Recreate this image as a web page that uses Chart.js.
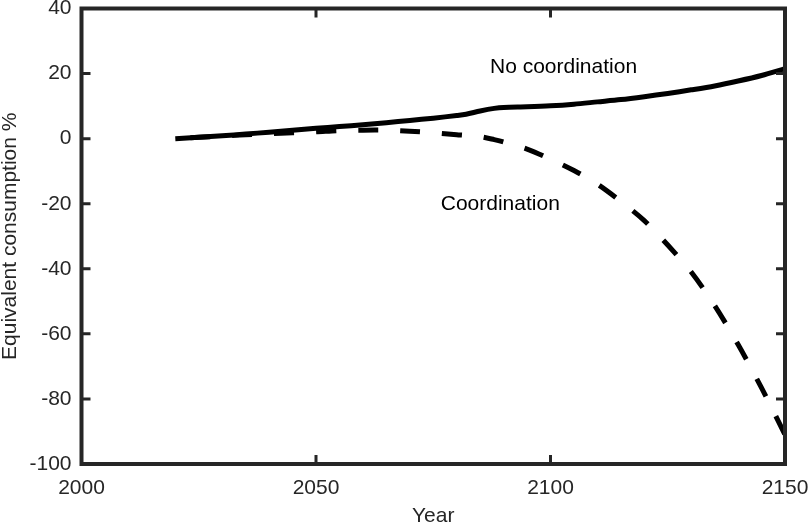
<!DOCTYPE html>
<html>
<head>
<meta charset="utf-8">
<script src="https://cdn.jsdelivr.net/npm/chart.js@4.4.0/dist/chart.umd.min.js"></script>
<style>
  body { margin: 0; background: #fff; }
  #wrap { width: 808px; height: 529px; }
</style>
</head>
<body>
<div id="wrap"><canvas id="c" width="808" height="529"></canvas></div>
<script>
// years and equivalent consumption (%) for both scenarios
const years = [2020, 2025, 2030, 2035, 2040, 2045, 2050, 2055, 2060, 2065, 2070, 2075, 2080, 2082, 2085, 2088, 2090, 2095, 2100, 2105, 2110, 2115, 2120, 2125, 2130, 2135, 2140, 2145, 2150];
const noCoordination = [0, 0.4, 0.9, 1.4, 2.0, 2.6, 3.2, 3.7, 4.3, 4.9, 5.6, 6.3, 7.1, 7.5, 8.5, 9.3, 9.6, 9.8, 10.1, 10.6, 11.3, 12.0, 12.9, 13.9, 15.0, 16.2, 17.7, 19.4, 21.5];
const coordination = [0, 0.4, 0.8, 1.2, 1.5, 1.8, 2.1, 2.5, 2.6, 2.6, 2.3, 1.8, 1.2, 1.0, 0.6, -0.3, -1.0, -3.2, -6.3, -9.8, -14.0, -19.3, -25.2, -32.7, -41.0, -51.3, -63.3, -76.6, -91.0];

const xTicks = [2000, 2050, 2100, 2150];
const yTicks = [-100, -80, -60, -40, -20, 0, 20, 40];

// text labels next to the curves: [text, year, value at baseline]
const curveLabels = [
  ['No coordination', 2087.1, 20.2],
  ['Coordination', 2076.6, -21.9]
];

const FONT = "'Liberation Sans', Arial, Helvetica, sans-serif";
const AXIS = '#262626';
const FS = 21;

const toPoints = (xs, ys) => xs.map((x, i) => ({ x: x, y: ys[i] }));

// box around the plot with short ticks pointing inwards
const framePlugin = {
  id: 'frame',
  afterDraw(chart) {
    const { ctx, chartArea: a, scales: { x, y } } = chart;
    const tl = 9;
    ctx.save();
    ctx.strokeStyle = AXIS;
    ctx.lineWidth = 3;
    ctx.beginPath();
    xTicks.forEach(v => {
      const px = x.getPixelForValue(v);
      ctx.moveTo(px, a.bottom); ctx.lineTo(px, a.bottom - tl);
      ctx.moveTo(px, a.top); ctx.lineTo(px, a.top + tl);
    });
    yTicks.forEach(v => {
      const py = y.getPixelForValue(v);
      ctx.moveTo(a.left, py); ctx.lineTo(a.left + tl, py);
      ctx.moveTo(a.right, py); ctx.lineTo(a.right - tl, py);
    });
    ctx.stroke();
    ctx.lineWidth = 4;
    ctx.strokeRect(a.left, a.top, a.right - a.left, a.bottom - a.top);

    ctx.fillStyle = '#000';
    ctx.font = FS + 'px ' + FONT;
    ctx.textAlign = 'left';
    ctx.textBaseline = 'alphabetic';
    curveLabels.forEach(([t, xv, yv]) => {
      ctx.fillText(t, x.getPixelForValue(xv), y.getPixelForValue(yv));
    });
    ctx.restore();
  }
};

new Chart(document.getElementById('c'), {
  type: 'line',
  data: {
    datasets: [
      {
        label: 'No coordination',
        data: toPoints(years, noCoordination),
        borderColor: '#000',
        borderWidth: 5,
        pointRadius: 0,
        tension: 0.3
      },
      {
        label: 'Coordination',
        data: toPoints(years, coordination),
        borderColor: '#000',
        borderWidth: 5,
        borderDash: [20, 22],
        borderDashOffset: 27,
        pointRadius: 0,
        tension: 0.3
      }
    ]
  },
  options: {
    responsive: false,
    animation: false,
    layout: { padding: { top: 8.5, right: 23, left: 0, bottom: 0 } },
    plugins: { legend: { display: false }, tooltip: { enabled: false } },
    scales: {
      x: {
        type: 'linear',
        min: 2000,
        max: 2150,
        afterBuildTicks: s => { s.ticks = xTicks.map(v => ({ value: v })); },
        grid: { display: false, drawTicks: false },
        border: { display: false },
        ticks: {
          color: AXIS,
          font: { family: FONT, size: FS },
          padding: 12,
          maxRotation: 0,
          autoSkip: false,
          callback: v => String(v)
        },
        title: {
          display: true,
          text: 'Year',
          color: AXIS,
          font: { family: FONT, size: FS, lineHeight: 1.1 },
          padding: { top: 0, bottom: 1 }
        },
        afterFit: s => { s.height = 65; s.paddingLeft = 0; s.paddingRight = 0; }
      },
      y: {
        min: -100,
        max: 40,
        afterBuildTicks: s => { s.ticks = yTicks.map(v => ({ value: v })); },
        grid: { display: false, drawTicks: false },
        border: { display: false },
        ticks: {
          color: AXIS,
          font: { family: FONT, size: FS },
          padding: 10,
          autoSkip: false,
          callback: v => String(v)
        },
        title: {
          display: true,
          text: 'Equivalent consumption %',
          color: AXIS,
          font: { family: FONT, size: FS, lineHeight: 1 },
          padding: 0
        },
        afterFit: s => { s.width = 81.5; s.paddingTop = 0; s.paddingBottom = 0; }
      }
    }
  },
  plugins: [framePlugin]
});
</script>
</body>
</html>
